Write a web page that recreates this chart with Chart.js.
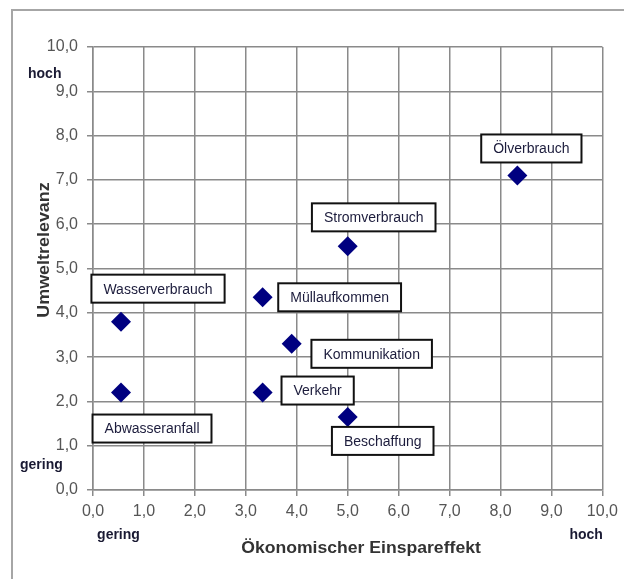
<!DOCTYPE html>
<html>
<head>
<meta charset="utf-8">
<script src="https://cdn.jsdelivr.net/npm/chart.js@4/dist/chart.umd.min.js"></script>
<style>
  html, body { margin: 0; padding: 0; background: #fff; }
  #wrap { width: 624px; height: 579px; }
</style>
</head>
<body>
<div id="wrap"><canvas id="matrixChart" width="624" height="579"></canvas></div>
<script>
// Umweltaspekte: x = oekonomischer Einspareffekt, y = Umweltrelevanz
const aspects = ['Ölverbrauch','Stromverbrauch','Müllaufkommen','Wasserverbrauch','Kommunikation','Abwasseranfall','Verkehr','Beschaffung'];
const einspareffekt = [8.33, 5.0, 3.33, 0.55, 3.9, 0.55, 3.33, 5.0];
const umweltrelevanz = [7.1, 5.5, 4.35, 3.8, 3.3, 2.2, 2.2, 1.65];
const axisMin = 0;
const axisMax = 10;
const axisStep = 1;

// where each label box sits relative to its point (pixels)
const labelShift = [[14,-27],[26,-29],[77,0],[37,-33],[80,10],[31,36],[55,-2],[35,24]];

const fmt = v => Number(v).toFixed(1).replace('.', ',');

const labelPlugin = {
    id: 'extras',
    beforeDraw(chart) {
        const c = chart.ctx;
        c.save();
        c.strokeStyle = '#a6a6a6';
        c.lineWidth = 2;
        c.strokeRect(12, 10, 700, 700);
        c.restore();
    },
    afterDraw(chart) {
        const c = chart.ctx;
        const xs = chart.scales.x;
        const ys = chart.scales.y;
        const meta = chart.getDatasetMeta(0);

        // label boxes
        c.save();
        c.font = '14px "Liberation Sans", Arial, sans-serif';
        c.textAlign = 'center';
        c.textBaseline = 'middle';
        meta.data.forEach((pt, i) => {
            const cx = pt.x + labelShift[i][0];
            const cy = pt.y + labelShift[i][1];
            const w = c.measureText(aspects[i]).width + 24;
            const h = 28;
            c.fillStyle = '#fff';
            c.fillRect(cx - w / 2, cy - h / 2, w, h);
            c.strokeStyle = '#111';
            c.lineWidth = 2;
            c.strokeRect(cx - w / 2, cy - h / 2, w, h);
            c.fillStyle = '#1c1c3c';
            c.fillText(aspects[i], cx, cy + 1);
        });
        c.restore();

        // hoch / gering
        c.save();
        c.font = 'bold 14px "Liberation Sans", Arial, sans-serif';
        c.fillStyle = '#1a1a33';
        c.textBaseline = 'middle';
        c.textAlign = 'left';
        c.fillText('hoch', 28, ys.getPixelForValue(9.38));
        c.fillText('gering', 20, ys.getPixelForValue(0.56));
        c.textAlign = 'center';
        c.fillText('gering', xs.getPixelForValue(0.5), 535);
        c.fillText('hoch', xs.getPixelForValue(9.68), 535);
        c.restore();

        // axis titles
        c.save();
        c.font = 'bold 16px "Liberation Sans", Arial, sans-serif';
        c.fillStyle = '#333';
        c.textAlign = 'center';
        c.textBaseline = 'middle';
        c.translate(361, 549);
        c.scale(1.1, 1);
        c.fillText('Ökonomischer Einspareffekt', 0, 0);
        c.restore();

        c.save();
        c.font = 'bold 16px "Liberation Sans", Arial, sans-serif';
        c.fillStyle = '#333';
        c.textAlign = 'center';
        c.textBaseline = 'middle';
        c.translate(45, 250);
        c.rotate(-Math.PI / 2);
        c.scale(1.12, 1);
        c.fillText('Umweltrelevanz', 0, 0);
        c.restore();
    }
};

const ctx = document.getElementById('matrixChart').getContext('2d');
const matrixChart = new Chart(ctx, {
    type: 'scatter',
    data: {
        datasets: [{
            label: 'Umweltaspekte',
            data: einspareffekt.map((v, i) => ({x: v, y: umweltrelevanz[i]})),
            pointStyle: 'rectRot',
            pointRadius: 10,
            pointHoverRadius: 10,
            backgroundColor: '#000080',
            borderColor: '#000080',
            borderWidth: 0
        }]
    },
    options: {
        responsive: false,
        animation: false,
        events: [],
        layout: {
            padding: {left: 0, top: 47, right: 20, bottom: 0}
        },
        plugins: {
            legend: {display: false},
            tooltip: {enabled: false}
        },
        scales: {
            x: {
                type: 'linear',
                min: axisMin,
                max: axisMax,
                afterFit: s => { s.height = 89; },
                grid: {color: '#8a8a8a', lineWidth: 1.5, tickLength: 6},
                border: {color: '#8a8a8a', width: 1.5},
                ticks: {
                    stepSize: axisStep,
                    padding: 6,
                    color: '#555',
                    maxRotation: 0,
                    font: {family: '"Liberation Sans", Arial, sans-serif', size: 16},
                    callback: v => fmt(v)
                }
            },
            y: {
                type: 'linear',
                min: axisMin,
                max: axisMax,
                afterFit: s => { s.width = 93; },
                grid: {color: '#8a8a8a', lineWidth: 1.5, tickLength: 6},
                border: {color: '#8a8a8a', width: 1.5},
                ticks: {
                    stepSize: axisStep,
                    padding: 9,
                    color: '#555',
                    font: {family: '"Liberation Sans", Arial, sans-serif', size: 16},
                    callback: v => fmt(v)
                }
            }
        }
    },
    plugins: [labelPlugin]
});
</script>
</body>
</html>
